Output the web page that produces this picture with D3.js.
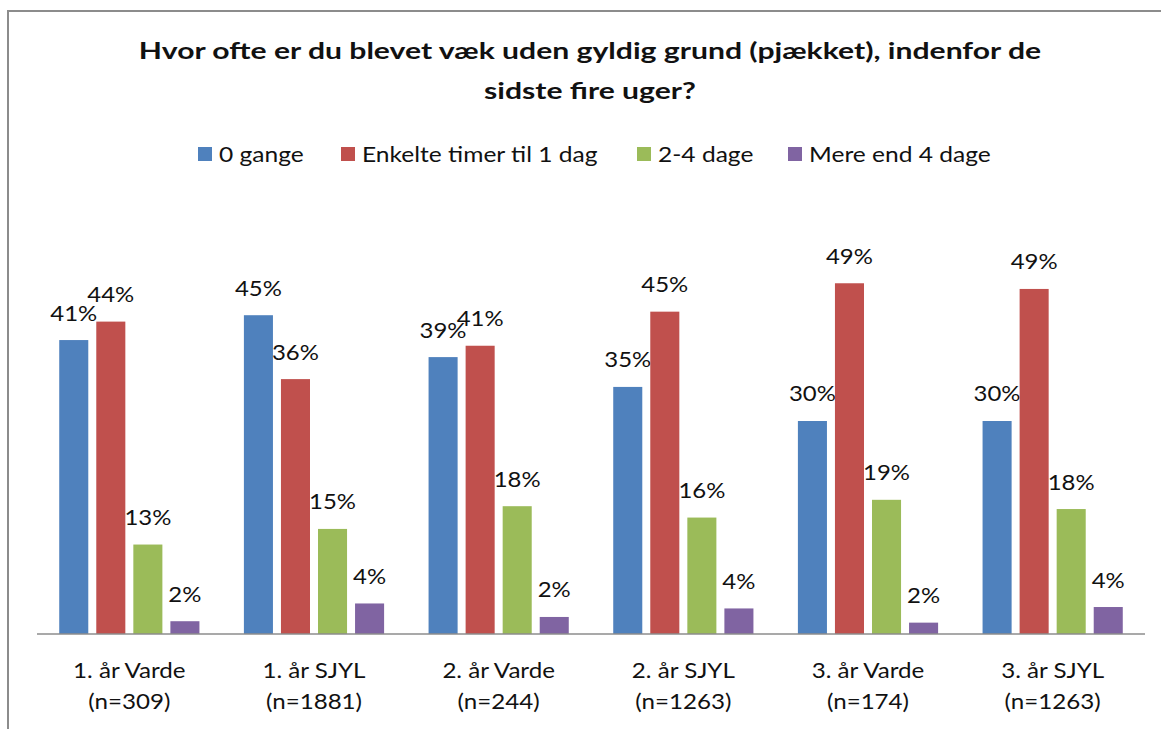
<!DOCTYPE html>
<html>
<head>
<meta charset="utf-8" />
<style>
  html, body {
    margin: 0;
    padding: 0;
    background: #fff;
  }
  text {
    font-family: Lato, "Open Sans", sans-serif;
    fill: #111;
  }
  .title {
    font-weight: bold;
    font-size: 23px;
  }
  .lbl, .cat, .legend text {
    font-size: 21px;
  }
  .frame {
    fill: none;
    stroke: #8c8c8c;
    stroke-width: 2px;
  }
  .baseline {
    stroke: #8c8c8c;
    stroke-width: 1.5px;
  }
</style>
</head>
<body>
<div id="vis"></div>

<script src="https://cdn.jsdelivr.net/npm/d3@7"></script>
<script>
(function() {
  // ** DATA **
  var categories = ["1. år Varde", "1. år SJYL", "2. år Varde", "2. år SJYL", "3. år Varde", "3. år SJYL"];
  var counts = ["(n=309)", "(n=1881)", "(n=244)", "(n=1263)", "(n=174)", "(n=1263)"];
  var series = ["0 gange", "Enkelte timer til 1 dag", "2-4 dage", "Mere end 4 dage"];
  var colors = ["#4f81bd", "#c0504d", "#9bbb59", "#8064a2"];

  // one array per series, one value per category (shares)
  var zeroTimes  = [0.414, 0.449, 0.390, 0.348, 0.300, 0.300];
  var someHours  = [0.440, 0.359, 0.406, 0.454, 0.494, 0.486];
  var twoToFour  = [0.126, 0.148, 0.180, 0.164, 0.189, 0.176];
  var moreThan4  = [0.018, 0.043, 0.024, 0.036, 0.016, 0.038];
  var values = [zeroTimes, someHours, twoToFour, moreThan4];

  var title = ["Hvor ofte er du blevet væk uden gyldig grund (pjækket), indenfor de",
               "sidste fire uger?"];

  // ** SETUP **
  var W = 1161, H = 729;
  var left = 37, right = 1145, base = 634;

  // the original text is wider than Lato, so stretch it around its anchor
  function stretch(sx, ax) {
    return function(d, i) {
      var a = typeof ax === "function" ? ax(d, i) : ax;
      return "matrix(" + sx + ",0,0,1," + (a * (1 - sx)) + ",0)";
    };
  }

  var svg = d3.select("#vis").append("svg")
    .attr("width", W).attr("height", H);

  // chart frame (only top and left edges are inside the picture)
  svg.append("rect").attr("class", "frame")
    .attr("x", 8).attr("y", 11)
    .attr("width", W + 20).attr("height", H + 20);

  var x0 = d3.scaleBand().domain(categories).range([left, right]);
  var x1 = d3.scaleBand().domain(series).range([0, x0.bandwidth()])
    .paddingInner(0.216).paddingOuter(0.6);
  var y = d3.scaleLinear().domain([0, 0.5]).range([base, base - 355]);
  var fmt = d3.format(".0%");

  // ** TITLE **
  svg.append("text").attr("class", "title")
    .attr("x", 590).attr("y", 59)
    .attr("text-anchor", "middle")
    .attr("transform", stretch(1.31, 590))
    .selectAll("tspan").data(title)
    .enter().append("tspan")
      .attr("x", 590)
      .attr("dy", function(d, i) { return i ? 40 : 0; })
      .text(function(d) { return d; });

  // ** LEGEND **
  var legendX = [198, 341, 637, 788];
  var legend = svg.append("g").attr("class", "legend")
    .selectAll("g").data(series)
    .enter().append("g")
      .attr("transform", function(d, i) { return "translate(" + legendX[i] + ",147)"; });
  legend.append("rect")
    .attr("width", 14).attr("height", 14)
    .attr("fill", function(d, i) { return colors[i]; });
  legend.append("text")
    .attr("x", 21).attr("y", 14.5)
    .attr("transform", stretch(1.17, 21))
    .text(function(d) { return d; });

  // ** BARS **
  var groups = svg.append("g").selectAll("g").data(categories)
    .enter().append("g")
      .attr("transform", function(d) { return "translate(" + x0(d) + ",0)"; });

  var cells = groups.selectAll("g")
    .data(function(c, ci) {
      return series.map(function(s, si) { return {s: s, si: si, v: values[si][ci]}; });
    })
    .enter().append("g");

  cells.append("rect")
    .attr("x", function(d) { return x1(d.s); })
    .attr("width", x1.bandwidth())
    .attr("y", function(d) { return y(d.v); })
    .attr("height", function(d) { return base - y(d.v); })
    .attr("fill", function(d) { return colors[d.si]; });

  function barMid(d) { return x1(d.s) + x1.bandwidth() / 2; }

  cells.append("text").attr("class", "lbl")
    .attr("x", barMid)
    .attr("y", function(d) { return y(d.v) - 19.5; })
    .attr("text-anchor", "middle")
    .attr("transform", stretch(1.14, barMid))
    .text(function(d) { return fmt(d.v); });

  // ** AXIS **
  svg.append("line").attr("class", "baseline")
    .attr("x1", left).attr("x2", right)
    .attr("y1", base).attr("y2", base);

  function catMid(d) { return x0(d) + x0.bandwidth() / 2; }

  var cat = svg.append("g").selectAll("text").data(categories)
    .enter().append("text").attr("class", "cat")
      .attr("text-anchor", "middle")
      .attr("y", 678)
      .attr("transform", stretch(1.15, catMid));
  cat.append("tspan")
    .attr("x", catMid)
    .text(function(d) { return d; });
  cat.append("tspan")
    .attr("x", catMid)
    .attr("dy", 31)
    .text(function(d, i) { return counts[i]; });
})();
</script>
</body>
</html>
